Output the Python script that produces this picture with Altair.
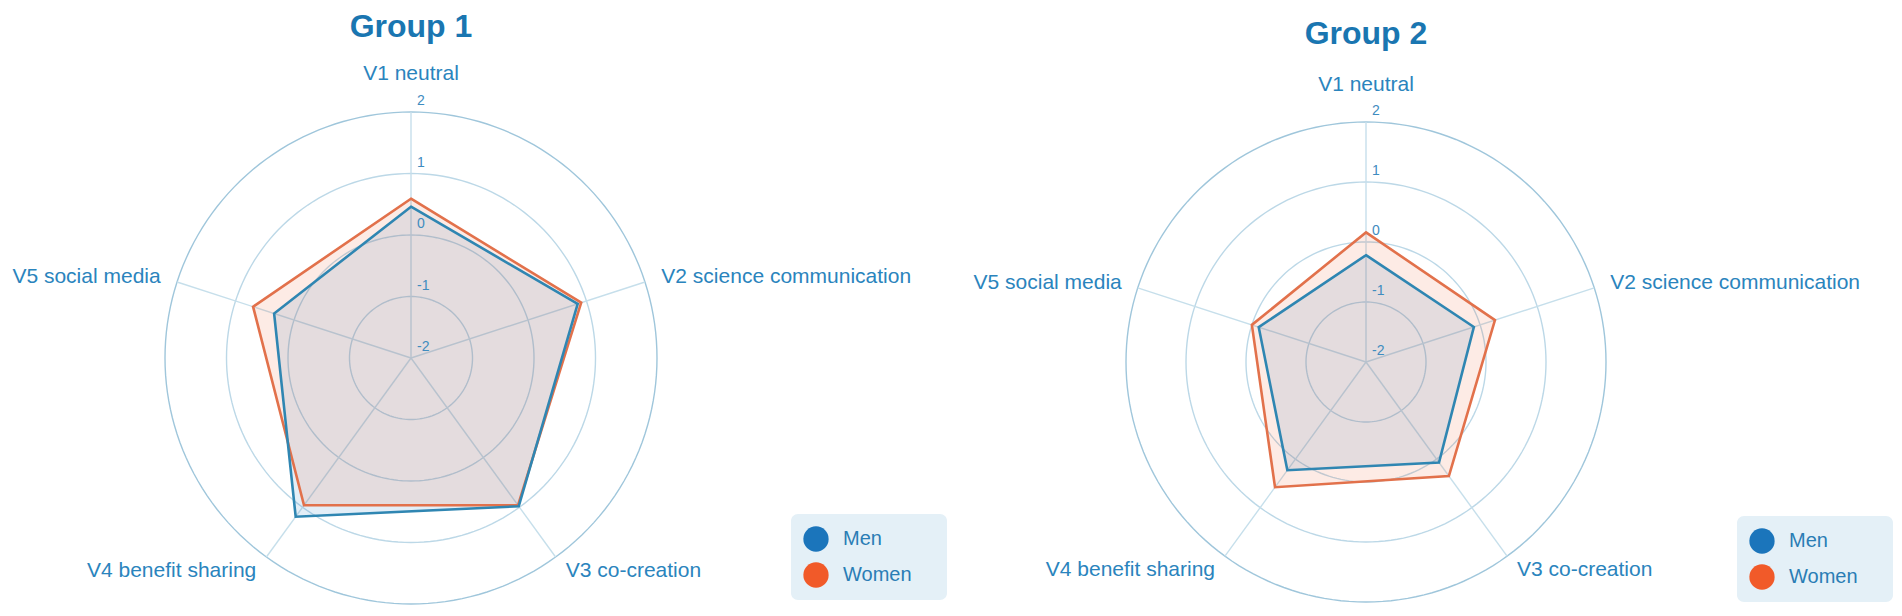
import altair as alt
import pandas as pd

# ---------------- data ----------------
AXES = ["V1 neutral", "V2 science communication", "V3 co-creation",
        "V4 benefit sharing", "V5 social media"]
SERIES = ["Men", "Women"]
GROUP_TITLES = ["Group 1", "Group 2"]

GROUP1_MEN = [0.46, 0.85, 0.98, 1.19, 0.34]
GROUP1_WOMEN = [0.59, 0.91, 0.96, 0.96, 0.70]
GROUP2_MEN = [-0.22, -0.11, 0.07, 0.23, -0.12]
GROUP2_WOMEN = [0.16, 0.26, 0.35, 0.58, 0.00]

TICKS = [-2, -1, 0, 1, 2]
RINGS = [-1, 0, 1, 2]

# ---------------- style ----------------
FONT = "Liberation Sans"
LEGEND_COLORS = ["#1b75bb", "#f15a29"]
LINE_MEN = "#2f86b2"
LINE_WOMEN = "#e2714b"
TITLE_COLOR = "#1a76b1"
LABEL_COLOR = "#2a84bd"
TICK_COLOR = "#3f8cbf"
RING_COLOR = "#bcd8e7"
RING_OUTER = "#9fc6db"
SPOKE_COLOR = "#c6dfeb"

POLAR_X = "(datum.value + 2) * sin(datum.idx * 2 * PI / 5)"
POLAR_Y = "(datum.value + 2) * cos(datum.idx * 2 * PI / 5)"


def long_table(men, women):
    rows = []
    for s, vals in zip(SERIES, [men, women]):
        for i, (a, v) in enumerate(zip(AXES, vals)):
            rows.append({"series": s, "axis": a, "idx": i, "value": v})
    return pd.DataFrame(rows)


axes_df = pd.DataFrame({"axis": AXES, "idx": list(range(len(AXES)))})
ticks_df = pd.DataFrame({"tick": TICKS})
rings_df = pd.DataFrame({"ring": RINGS})


def panel(title, men, women, xdom, ydom, lx, ly, title_y, W=938, H=598):
    xs = alt.Scale(domain=xdom, nice=False, zero=False)
    ys = alt.Scale(domain=ydom, nice=False, zero=False)
    X = lambda f: alt.X(f, scale=xs, axis=None)
    Y = lambda f: alt.Y(f, scale=ys, axis=None)

    rings = (
        alt.Chart(rings_df)
        .transform_calculate(deg="sequence(0, 362, 2)")
        .transform_flatten(["deg"])
        .transform_calculate(
            x="(datum.ring + 2) * sin(datum.deg * PI / 180)",
            y="(datum.ring + 2) * cos(datum.deg * PI / 180)",
        )
        .mark_line(strokeWidth=1.4)
        .encode(
            x=X("x:Q"), y=Y("y:Q"), detail="ring:N", order="deg:Q",
            stroke=alt.condition("datum.ring == 2", alt.value(RING_OUTER), alt.value(RING_COLOR)),
        )
    )

    spokes = (
        alt.Chart(axes_df)
        .transform_calculate(
            x0="0", y0="0",
            x1="4 * sin(datum.idx * 2 * PI / 5)",
            y1="4 * cos(datum.idx * 2 * PI / 5)",
        )
        .mark_rule(stroke=SPOKE_COLOR, strokeWidth=1.4)
        .encode(x=X("x0:Q"), y=Y("y0:Q"), x2="x1:Q", y2="y1:Q")
    )

    data = long_table(men, women)
    base = alt.Chart(data).transform_calculate(x=POLAR_X, y=POLAR_Y)

    fills = base.mark_line(
        filled=True, interpolate="linear-closed", fillOpacity=0.12, strokeWidth=0
    ).encode(
        x=X("x:Q"), y=Y("y:Q"), order="idx:Q",
        fill=alt.Fill(
            "series:N",
            scale=alt.Scale(domain=SERIES, range=LEGEND_COLORS),
            legend=alt.Legend(
                orient="none", legendX=lx, legendY=ly,
                title="MM", titleOrient="right", titleOpacity=0,
                titleFontSize=10, titlePadding=6,
                symbolType="circle", symbolSize=640, symbolOpacity=1,
                symbolStrokeWidth=0, labelFont=FONT, labelFontSize=20,
                labelColor="#2a7db5", fillColor="#e4f0f7", cornerRadius=7,
                padding=12, rowPadding=10, labelOffset=14,
            ),
        ),
    )

    line_w = base.transform_filter("datum.series == 'Women'").mark_line(
        interpolate="linear-closed", stroke=LINE_WOMEN, strokeWidth=2.6
    ).encode(x=X("x:Q"), y=Y("y:Q"), order="idx:Q")
    line_m = base.transform_filter("datum.series == 'Men'").mark_line(
        interpolate="linear-closed", stroke=LINE_MEN, strokeWidth=2.6
    ).encode(x=X("x:Q"), y=Y("y:Q"), order="idx:Q")

    tick_text = (
        alt.Chart(ticks_df)
        .transform_calculate(x="0", y="datum.tick + 2")
        .mark_text(align="left", baseline="middle", dx=6, dy=-11,
                   font=FONT, fontSize=14, color=TICK_COLOR)
        .encode(x=X("x:Q"), y=Y("y:Q"), text="tick:N")
    )

    lab_base = alt.Chart(axes_df).transform_calculate(
        r="datum.idx == 0 ? 4.62 : 4.28"
    ).transform_calculate(
        x="datum.r * sin(datum.idx * 2 * PI / 5)",
        y="datum.r * cos(datum.idx * 2 * PI / 5)",
    )
    lab_kw = dict(baseline="middle", font=FONT, fontSize=21, color=LABEL_COLOR)
    lab_c = lab_base.transform_filter("datum.idx == 0").mark_text(align="center", **lab_kw).encode(
        x=X("x:Q"), y=Y("y:Q"), text="axis:N")
    lab_l = lab_base.transform_filter("datum.idx == 1 || datum.idx == 2").mark_text(align="left", **lab_kw).encode(
        x=X("x:Q"), y=Y("y:Q"), text="axis:N")
    lab_r = lab_base.transform_filter("datum.idx == 3 || datum.idx == 4").mark_text(align="right", **lab_kw).encode(
        x=X("x:Q"), y=Y("y:Q"), text="axis:N")

    title_text = (
        alt.Chart(pd.DataFrame({"title": [title]}))
        .transform_calculate(x="0", y=str(title_y))
        .mark_text(align="center", baseline="middle", font=FONT, fontSize=32,
                   fontWeight="bold", color=TITLE_COLOR)
        .encode(x=X("x:Q"), y=Y("y:Q"), text="title:N")
    )

    return alt.layer(
        rings, spokes, fills, line_w, line_m, tick_text, lab_c, lab_l, lab_r, title_text
    ).properties(width=W, height=H)


# panel 1: centre at (403, 350) inside a 938x598 view, 61.5 px per unit
u1 = 61.5
p1 = panel(GROUP_TITLES[0], GROUP1_MEN, GROUP1_WOMEN,
           [-403 / u1, (938 - 403) / u1], [-(598 - 350) / u1, 350 / u1], 783, 506, 5.39)
# panel 2: centre at (411, 354), 60 px per unit
u2 = 60.0
p2 = panel(GROUP_TITLES[1], GROUP2_MEN, GROUP2_WOMEN,
           [-411 / u2, (938 - 411) / u2], [-(598 - 354) / u2, 354 / u2], 782, 508, 5.46)

chart = (
    alt.hconcat(p1, p2, spacing=8)
    .resolve_scale(fill="independent")
    .properties(padding=0, background="white")
    .configure_view(stroke=None)
)

chart.save("out.html", embed_options={"renderer": "svg", "actions": False})
